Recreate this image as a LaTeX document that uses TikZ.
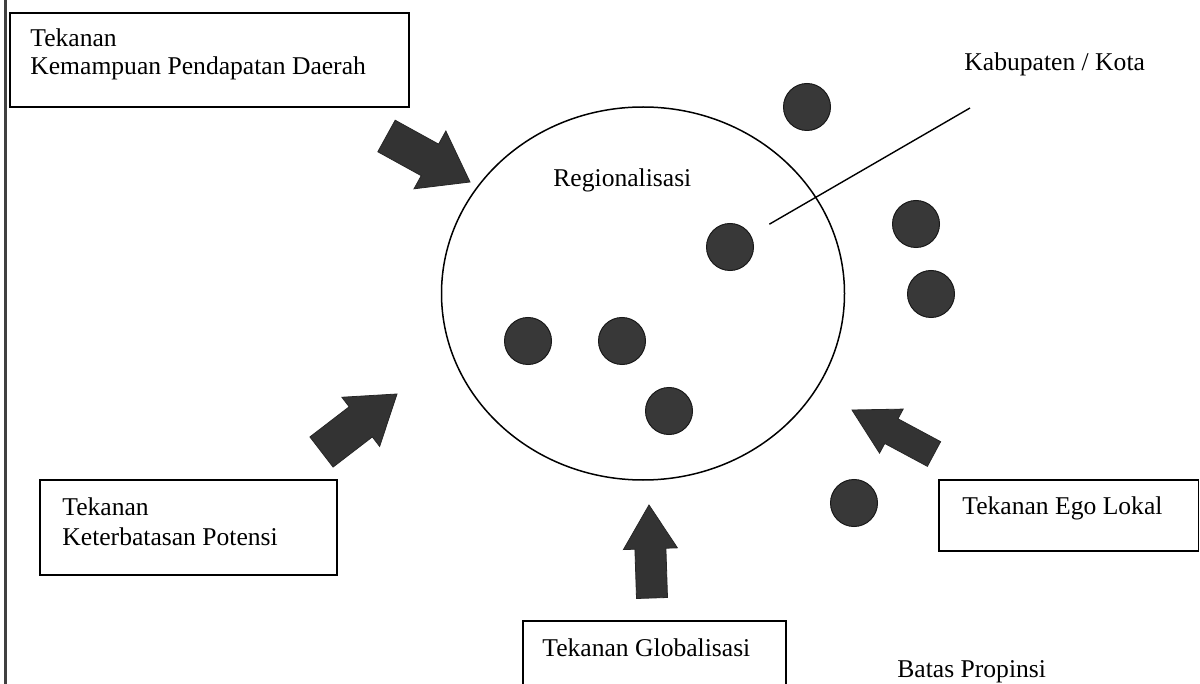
\documentclass[tikz,border=0pt]{standalone}
\usepackage{fontspec}
\setmainfont{Liberation Serif}
\usetikzlibrary{calc,shapes.geometric}
\newcommand{\blkarr}[6]{%
  \coordinate (#1-t) at #2;
  \coordinate (#1-p) at #3;
  \coordinate (#1-h) at ($(#1-t)!#6!(#1-p)$);
  \filldraw[blk] ($(#1-t)!#4!90:(#1-p)$) -- ($(#1-h)!#4!90:(#1-p)$) -- ($(#1-h)!#5!90:(#1-p)$) -- (#1-p) -- ($(#1-h)!#5!-90:(#1-p)$) -- ($(#1-h)!#4!-90:(#1-p)$) -- ($(#1-t)!#4!-90:(#1-p)$) -- cycle;
}
\begin{document}
\begin{tikzpicture}[x=0.5pt,y=-0.5pt,
  lbl/.style={font=\fontsize{12.8}{14.5}\selectfont, inner sep=0pt, anchor=base west},
  frame/.style={draw, line width=0.9pt, inner sep=0pt, rectangle},
  dot/.style={circle, fill=black!78, draw=black!90, line width=0.5pt, minimum size=23.5pt, inner sep=0pt},
  blk/.style={fill=black!80, draw=black!85, line width=0.4pt, line join=miter}]
\useasboundingbox (0,0) rectangle (1200,684);
\clip (0,0) rectangle (1200,684);
\fill[white] (0,0) rectangle (1200,684);
% province border
\coordinate (bt) at (5.5,0);
\coordinate (bb) at (5.5,684);
\draw[line width=1.1pt, black!75] (bt) -- (bb);
% boxes
\node[frame, minimum width=199.5pt, minimum height=47pt] (b1) at (209.5,60) {};
\node[frame, minimum width=148.5pt, minimum height=47.5pt] (b2) at (188.5,527.5) {};
\node[frame, minimum width=129.75pt, minimum height=35.5pt] (b3) at (1068.75,515.5) {};
\node[frame, minimum width=131.5pt, minimum height=60pt] (b4) at (654.5,681) {};
% texts
\node[lbl] (t1a) at (30,47) {Tekanan};
\node[lbl] (t1b) at (30,75) {Kemampuan Pendapatan Daerah};
\node[lbl] (t2a) at (62,515) {Tekanan};
\node[lbl] (t2b) at (62,545) {Keterbatasan Potensi};
\node[lbl] (t3) at (962,514) {Tekanan Ego Lokal};
\node[lbl] (t4) at (542,656) {Tekanan Globalisasi};
\node[lbl] (t5) at (897,677) {Batas Propinsi};
\node[lbl] (t6) at (553,187) {Regionalisasi};
\node[lbl] (t7) at (964,71) {Kabupaten / Kota};
% region
\node[ellipse, draw, line width=0.75pt, minimum width=201.5pt, minimum height=186.5pt, inner sep=0pt] (reg) at (643,293.5) {};
% dots
\node[dot] (d1) at (730,247) {};
\node[dot] (d2) at (528,341) {};
\node[dot] (d3) at (622,341) {};
\node[dot] (d4) at (669,411) {};
\node[dot] (d5) at (807,107) {};
\node[dot] (d6) at (916,224) {};
\node[dot] (d7) at (931,294) {};
\node[dot] (d8) at (854,503) {};
% leader line
\coordinate (kabend) at (970,108);
\draw[line width=0.7pt, shorten <=10.75pt] (d1) -- (kabend);
% block arrows
\blkarr{a1}{(386.5,136)}{(470,182)}{9pt}{16.5pt}{0.52}
\blkarr{a2}{(321.5,452)}{(397,394)}{9.5pt}{15.5pt}{0.52}
\blkarr{a3}{(652,598)}{(649,505)}{7.75pt}{13.5pt}{0.53}
\blkarr{a4}{(934,454)}{(852,410)}{7pt}{12.5pt}{0.52}
\end{tikzpicture}
\end{document}
